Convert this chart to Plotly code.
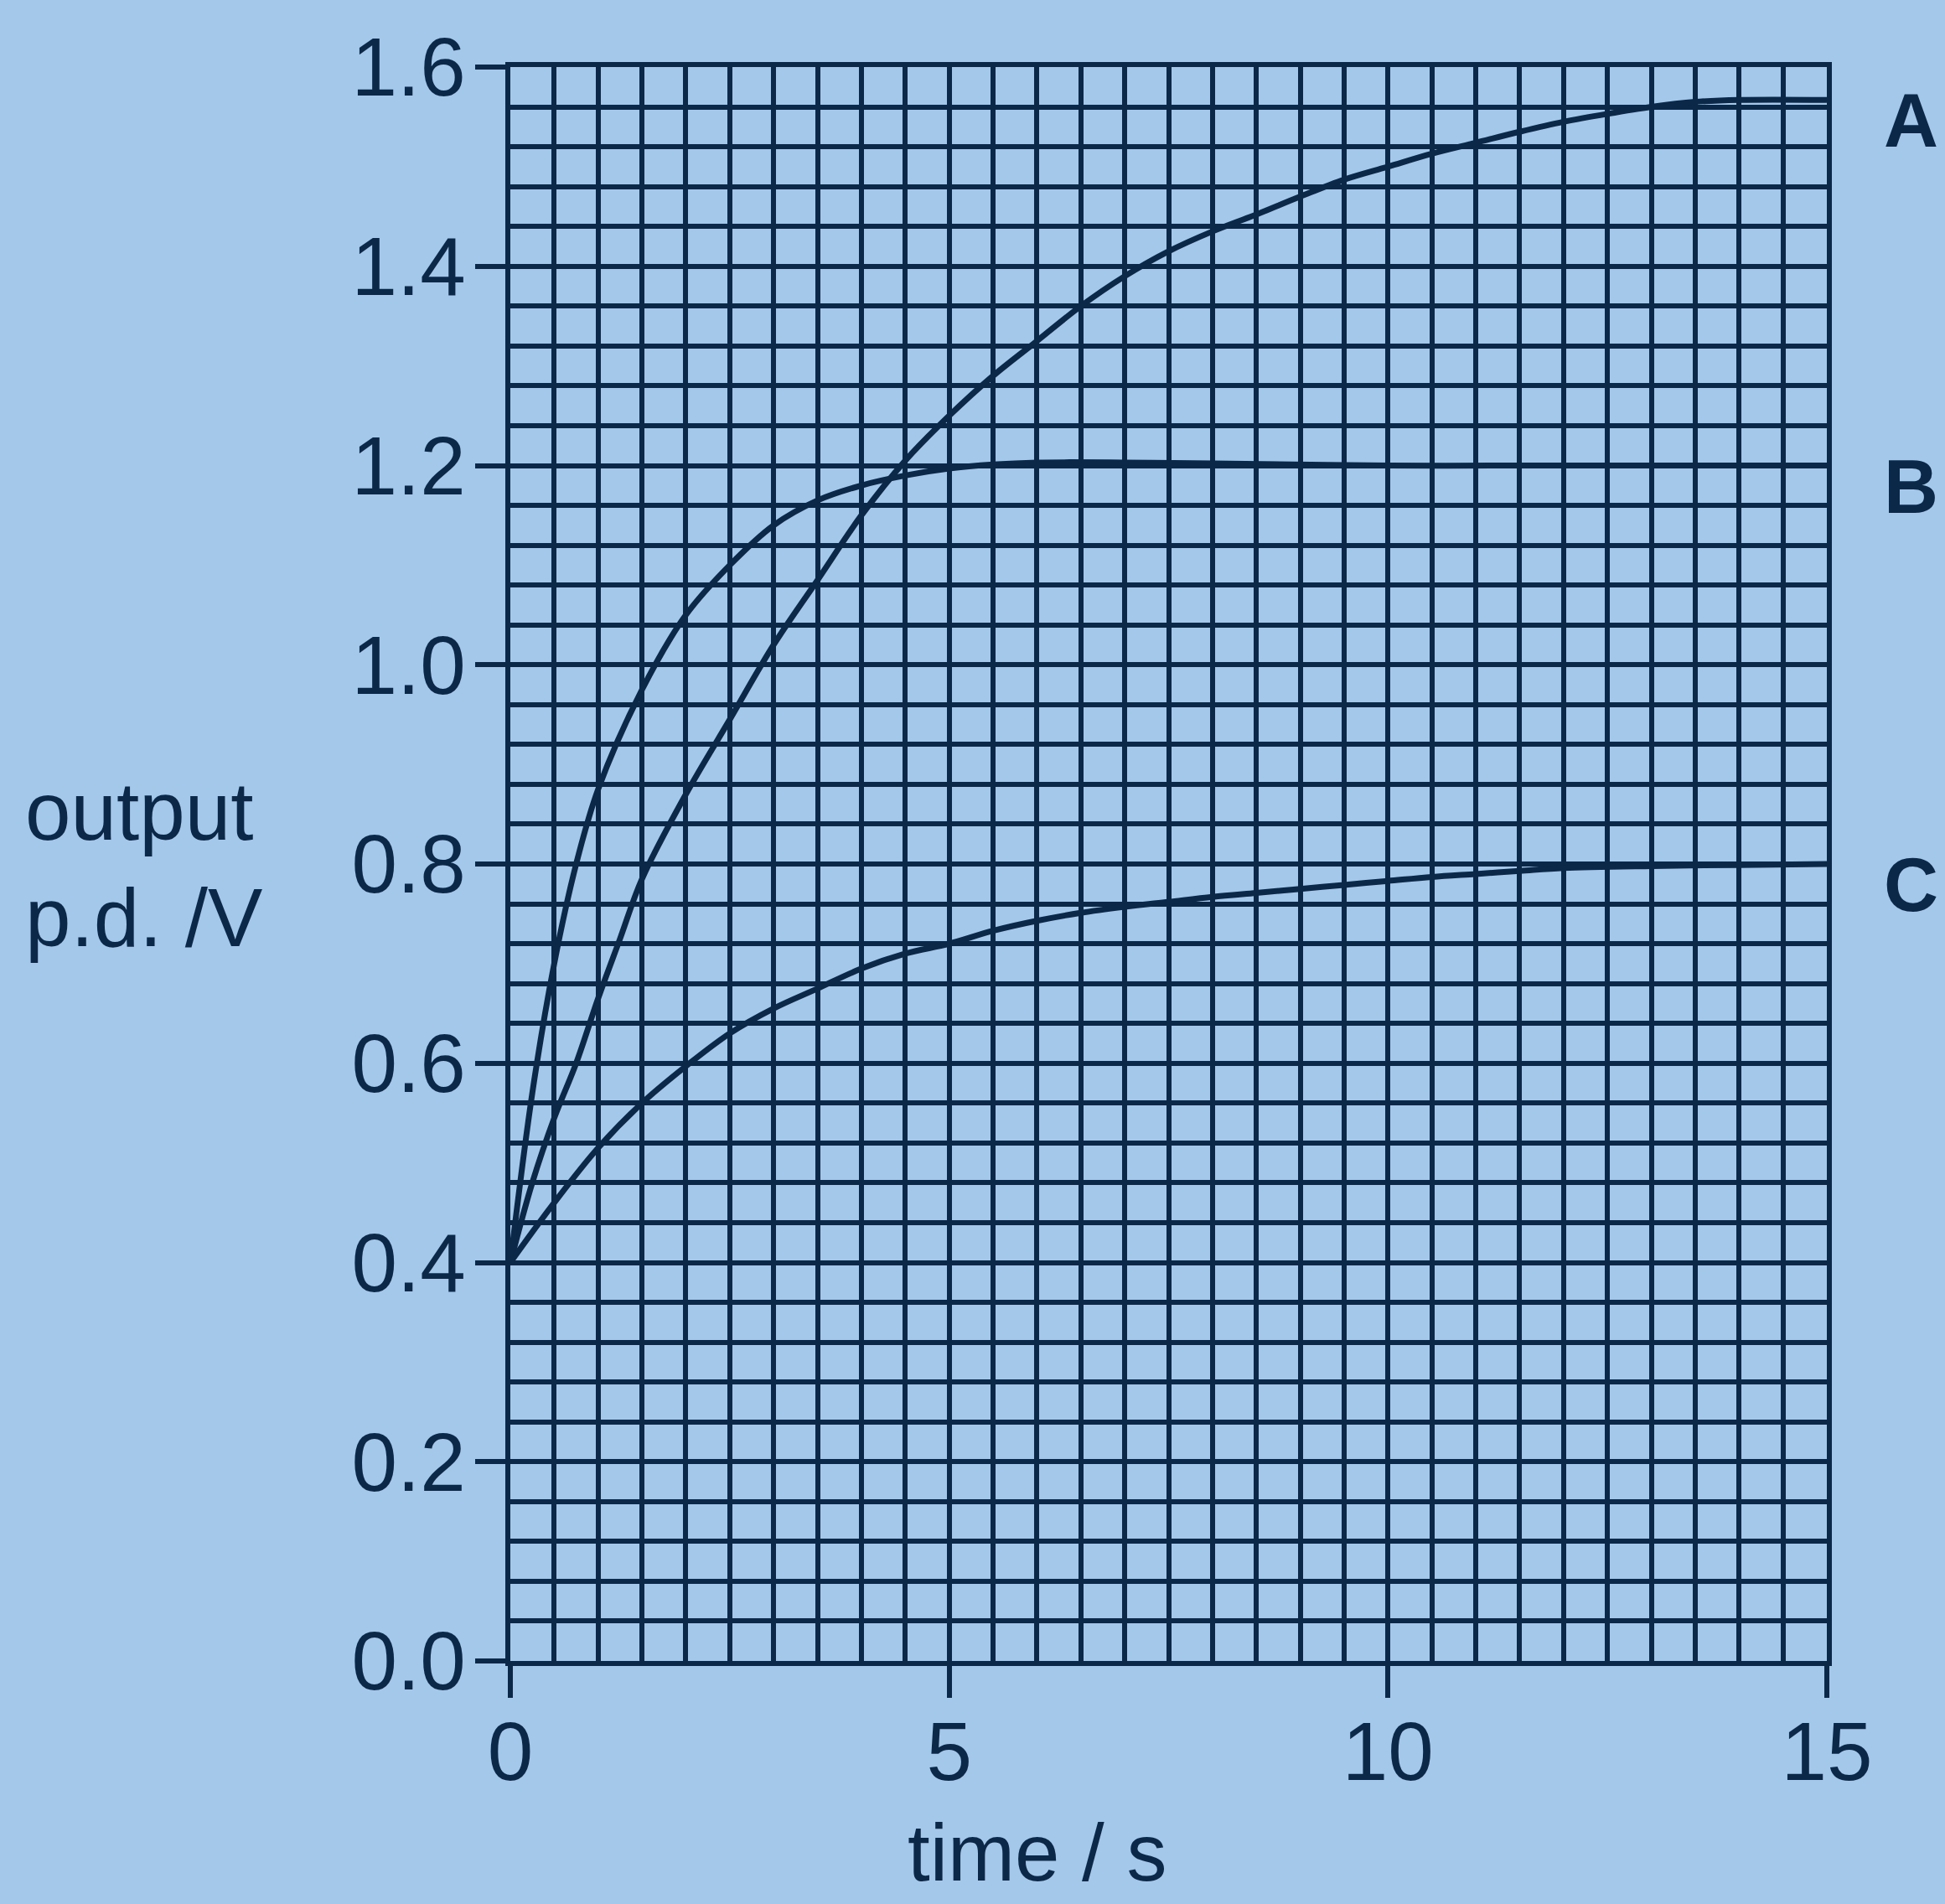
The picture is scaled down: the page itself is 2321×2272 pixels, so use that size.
import plotly.graph_objects as go

# ---- data (grid-relative) ----
time_A = [0, 0.25, 0.5, 0.75, 1.0, 1.25, 1.5, 2.0, 2.5, 3.0, 3.5, 4.0, 4.5, 5.0, 5.5, 6.0, 6.5, 7.0,
          7.5, 8.0, 8.5, 9.0, 9.5, 10.0, 10.5, 11.0, 11.5, 12.0, 12.5, 13.0, 13.5, 14.0, 15.0]
volt_A = [0.40, 0.48, 0.545, 0.60, 0.665, 0.725, 0.785, 0.87, 0.945, 1.02, 1.085, 1.15, 1.205, 1.25,
          1.29, 1.325, 1.36, 1.39, 1.415, 1.435, 1.452, 1.47, 1.487, 1.50, 1.513, 1.524, 1.535,
          1.545, 1.553, 1.56, 1.565, 1.567, 1.567]

time_B = [0, 0.25, 0.5, 0.75, 1.0, 1.5, 2.0, 2.5, 3.0, 3.5, 4.0, 4.5, 5.0, 5.5, 6.0, 7.0, 8.0, 10.0,
          12.0, 15.0]
volt_B = [0.40, 0.57, 0.70, 0.80, 0.875, 0.975, 1.05, 1.10, 1.14, 1.165, 1.18, 1.19, 1.197, 1.201,
          1.203, 1.203, 1.202, 1.20, 1.20, 1.20]

time_C = [0, 0.5, 1.0, 1.5, 2.0, 2.5, 3.0, 3.5, 4.0, 4.5, 5.0, 5.5, 6.0, 6.5, 7.0, 7.5, 8.0, 8.5,
          9.0, 9.5, 10.0, 10.5, 11.0, 11.5, 12.0, 13.0, 14.0, 15.0]
volt_C = [0.40, 0.46, 0.515, 0.56, 0.597, 0.63, 0.655, 0.675, 0.695, 0.71, 0.72, 0.733, 0.743,
          0.751, 0.757, 0.762, 0.767, 0.771, 0.775, 0.779, 0.783, 0.787, 0.79, 0.793, 0.796,
          0.798, 0.799, 0.80]

curve_labels = ["A", "B", "C"]
x_ticks = [0, 5, 10, 15]
y_ticks = [0.0, 0.2, 0.4, 0.6, 0.8, 1.0, 1.2, 1.4, 1.6]
y_tick_text = ["0.0", "0.2", "0.4", "0.6", "0.8", "1.0", "1.2", "1.4", "1.6"]

# ---- style ----
BG = "#a4c8ea"
INK = "#0c2848"
FONT = "Liberation Sans, Arial, sans-serif"

fig = go.Figure()
for tx, vy in [(time_A, volt_A), (time_B, volt_B), (time_C, volt_C)]:
    fig.add_trace(go.Scatter(x=tx, y=vy, mode="lines",
                             line=dict(color=INK, width=7, shape="spline", smoothing=1.0),
                             showlegend=False, hoverinfo="skip"))

ends = [(volt_A[-1], curve_labels[0]), (volt_B[-1], curve_labels[1]), (volt_C[-1], curve_labels[2])]
for yv, lab in ends:
    fig.add_annotation(x=15, y=yv, text=f"<b>{lab}</b>", showarrow=False,
                       xanchor="center", yanchor="middle", xshift=100, yshift=-25,
                       font=dict(family=FONT, size=90, color=INK))

fig.add_annotation(xref="paper", yref="y", x=-0.37, y=0.80, text="output<br>p.d. /V",
                   showarrow=False, xanchor="left", yanchor="middle", align="left",
                   font=dict(family=FONT, size=98, color=INK))
fig.add_annotation(xref="x", yref="paper", x=6.0, y=0, yshift=-228, text="time / s",
                   showarrow=False, xanchor="center", yanchor="middle",
                   font=dict(family=FONT, size=96, color=INK))

fig.update_layout(
    width=2321, height=2272,
    margin=dict(l=609, r=141, t=80, b=290),
    paper_bgcolor=BG, plot_bgcolor=BG,
    font=dict(family=FONT, size=98, color=INK),
)
fig.update_xaxes(range=[0, 15], tickvals=x_ticks, ticktext=[str(v) for v in x_ticks],
                 ticks="outside", ticklen=38, tickwidth=5.5, tickcolor=INK,
                 ticklabelstandoff=-19,
                 showline=True, linecolor=INK, linewidth=5.5, mirror=True,
                 showgrid=True, gridcolor=INK, gridwidth=5.5, zeroline=False,
                 minor=dict(dtick=0.5, tick0=0, showgrid=True, gridcolor=INK, gridwidth=5.5, ticks=""),
                 tickfont=dict(family=FONT, size=98, color=INK))
fig.update_yaxes(range=[0, 1.6], tickvals=y_ticks, ticktext=y_tick_text,
                 ticks="outside", ticklen=36, tickwidth=5.5, tickcolor=INK,
                 ticklabelstandoff=-8,
                 showline=True, linecolor=INK, linewidth=5.5, mirror=True,
                 showgrid=True, gridcolor=INK, gridwidth=5.5, zeroline=False,
                 minor=dict(dtick=0.04, tick0=0, showgrid=True, gridcolor=INK, gridwidth=5.5, ticks=""),
                 tickfont=dict(family=FONT, size=98, color=INK))

fig.write_html("out.html", config={"displayModeBar": False},
               post_script="document.body.style.margin='0';document.body.style.background='%s';" % BG)
